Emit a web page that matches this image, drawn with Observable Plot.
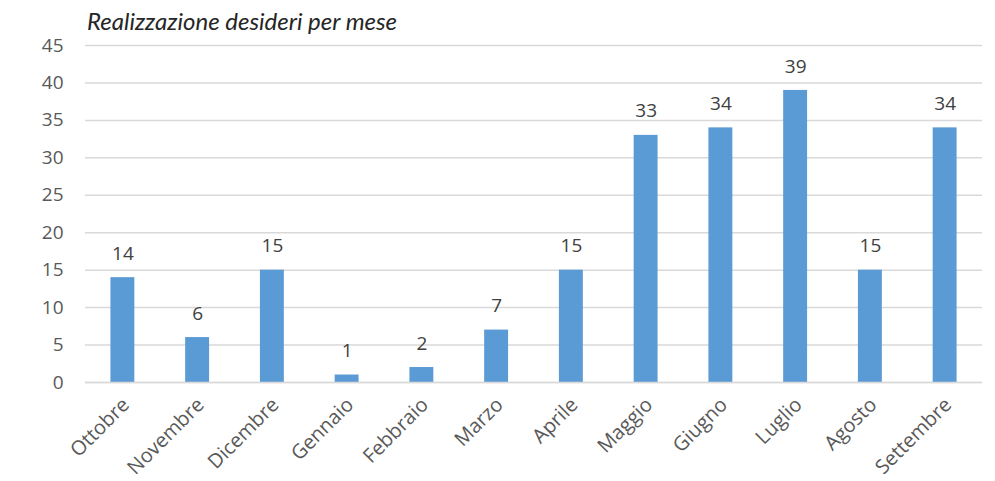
<!DOCTYPE html>
<html>
<head>
<meta charset="utf-8">
<script src="https://cdn.jsdelivr.net/npm/d3@7"></script>
<script src="https://cdn.jsdelivr.net/npm/@observablehq/plot@0.6"></script>
<style>
  body { margin: 0; background: #fff; }
  #wrap { position: relative; width: 995px; height: 481px; }
  #title { position: absolute; left: 87px; top: 9px; font-family: Lato, sans-serif; font-style: italic; font-size: 24px; line-height: 1; color: #262626; }
</style>
</head>
<body>
<div id="wrap"><div id="title">Realizzazione desideri per mese</div><div id="chart"></div></div>
<script>
const months = ["Ottobre","Novembre","Dicembre","Gennaio","Febbraio","Marzo","Aprile","Maggio","Giugno","Luglio","Agosto","Settembre"];
const values = [14, 6, 15, 1, 2, 7, 15, 33, 34, 39, 15, 34];
const yTicks = [0,5,10,15,20,25,30,35,40,45];

const data = months.map((m, i) => ({month: m, value: values[i]}));

const chart = Plot.plot({
  width: 995,
  height: 481,
  marginTop: 45,
  marginBottom: 99,
  marginLeft: 85,
  marginRight: 13,
  style: {fontFamily: "'Open Sans', sans-serif", fontSize: "19px", color: "#595959", background: "#fff"},
  x: {domain: months, paddingInner: 0.68, paddingOuter: 0.34, round: false, label: null},
  y: {domain: [0, 45], ticks: yTicks, label: null},
  marks: [
    Plot.gridY(yTicks, {stroke: "#d9d9d9", strokeOpacity: 1, strokeWidth: 1.5}),
    Plot.barY(data, {x: "month", y: "value", fill: "#5B9BD5"}),
    Plot.text(data, {x: "month", y: "value", text: d => String(d.value), dy: -24, fill: "#404040", fontSize: 19}),
    Plot.ruleY([0], {stroke: "#d9d9d9", strokeWidth: 1.5}),
    Plot.axisX({tickSize: 0, tickRotate: -45, tickPadding: 19, fontSize: 20, dx: 3, label: null}),
    Plot.axisY(yTicks, {tickSize: 0, tickPadding: 22, fontSize: 19, label: null})
  ]
});
document.getElementById("chart").appendChild(chart);
</script>
</body>
</html>
